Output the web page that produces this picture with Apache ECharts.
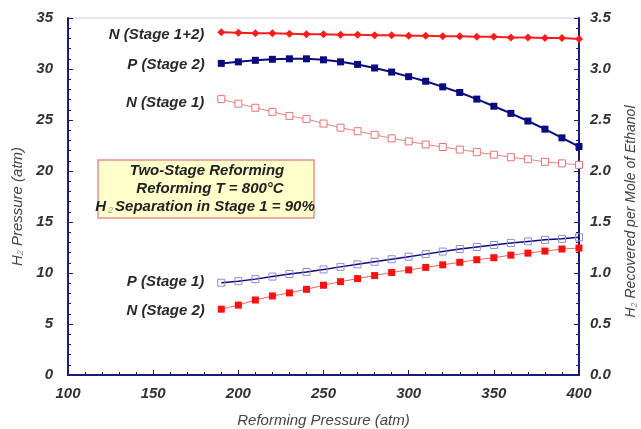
<!DOCTYPE html>
<html>
<head>
<meta charset="utf-8">
<script src="https://cdn.jsdelivr.net/npm/echarts@6/dist/echarts.min.js"></script>
<style>html,body{margin:0;padding:0;background:#fff;}#c{width:641px;height:429px;}</style>
</head>
<body>
<div id="c"></div>
<script>
const pressures = [190,200,210,220,230,240,250,260,270,280,290,300,310,320,330,340,350,360,370,380,390,400];
const nStage12 = [33.6,33.55,33.5,33.5,33.45,33.4,33.4,33.35,33.35,33.3,33.3,33.25,33.25,33.2,33.2,33.15,33.15,33.1,33.1,33.05,33.05,32.95];
const pStage2  = [30.55,30.7,30.85,30.95,31.0,31.0,30.9,30.7,30.45,30.1,29.7,29.25,28.8,28.25,27.7,27.05,26.35,25.65,24.9,24.1,23.25,22.4];
const nStage1  = [27.05,26.6,26.2,25.8,25.4,25.1,24.65,24.25,23.9,23.55,23.2,22.9,22.6,22.35,22.1,21.85,21.6,21.35,21.15,20.9,20.75,20.6];
const pStage1  = [9.05,9.2,9.4,9.65,9.9,10.1,10.35,10.6,10.85,11.1,11.35,11.6,11.85,12.1,12.35,12.55,12.75,12.95,13.1,13.25,13.35,13.5];
const nStage2  = [6.45,6.85,7.35,7.75,8.05,8.4,8.8,9.15,9.45,9.75,10.05,10.3,10.55,10.8,11.05,11.3,11.5,11.75,11.95,12.15,12.35,12.45];
const xTicks = {min:100, max:400, interval:50};
const yLeftTicks = {min:0, max:35, interval:5};
const yRightTicks = {min:0, max:3.5, interval:0.5};

const FONT = '"Liberation Sans", Arial, sans-serif';
const NAVY = '#1a1a7a';

function pairs(ys){ return pressures.map((x,i)=>[x,ys[i]]); }
function labeled(ys, text, dy){
  return pairs(ys).map((p,i)=> i===0 ? {value:p, label:{show:true, position:'left', distance:13, offset:[0,dy], formatter:text,
    fontFamily:FONT, fontStyle:'italic', fontWeight:'bold', fontSize:15, color:'#2a2a2a'}} : {value:p});
}

const chart = echarts.init(document.getElementById('c'));
const axisLabelStyle = {fontFamily:FONT, fontStyle:'italic', fontWeight:'bold', fontSize:15, color:'#333'};
function nameStyle(size, pad){
  return {fontFamily:FONT, fontStyle:'italic', fontSize:size, color:'#444', padding:pad,
    rich:{i:{fontFamily:FONT, fontStyle:'italic', fontSize:size, color:'#444'}, s:{fontFamily:FONT, fontStyle:'italic', fontSize:9, color:'#888', verticalAlign:'bottom', padding:[7,0,0,0]}}};
}

chart.setOption({
  animation:false,
  grid:{left:68, right:62, top:18, bottom:54, containLabel:false, outerBoundsMode:'none', show:true, borderColor:'#c8c8e6', borderWidth:1},
  xAxis:{type:'value', min:xTicks.min, max:xTicks.max, interval:xTicks.interval,
    name:'Reforming Pressure (atm)', nameLocation:'middle', nameGap:38,
    nameTextStyle:{fontFamily:FONT, fontStyle:'italic', fontSize:15, color:'#444'},
    axisLine:{lineStyle:{color:NAVY, width:2}},
    axisTick:{inside:true, length:5, lineStyle:{color:NAVY}},
    minorTick:{show:true, splitNumber:5, length:3, lineStyle:{color:NAVY}},
    splitLine:{show:false},
    axisLabel:Object.assign({margin:11}, axisLabelStyle)},
  yAxis:[
    {type:'value', min:yLeftTicks.min, max:yLeftTicks.max, interval:yLeftTicks.interval,
      name:'{i|H}{s|2}{i| Pressure (atm)}', nameLocation:'middle', nameGap:36, nameTextStyle:nameStyle(15,[0,20,0,0]),
      axisLine:{show:true, lineStyle:{color:NAVY, width:2}},
      axisTick:{inside:true, length:5, lineStyle:{color:NAVY}},
      minorTick:{show:true, splitNumber:5, length:3, lineStyle:{color:NAVY}},
      splitLine:{show:false},
      axisLabel:Object.assign({margin:15}, axisLabelStyle)},
    {type:'value', position:'right', min:yRightTicks.min, max:yRightTicks.max, interval:yRightTicks.interval,
      name:'{i|H}{s|2}{i| Recovered per Mole of Ethanol}', nameLocation:'middle', nameGap:44, nameRotate:90, nameTextStyle:nameStyle(14,[0,30,0,0]),
      axisLine:{show:true, lineStyle:{color:NAVY, width:2}},
      axisTick:{inside:true, length:5, lineStyle:{color:NAVY}},
      minorTick:{show:true, splitNumber:5, length:3, lineStyle:{color:NAVY}},
      splitLine:{show:false},
      axisLabel:Object.assign({margin:11, formatter:v=>v.toFixed(1)}, axisLabelStyle)}
  ],
  series:[
    {name:'N (Stage 1+2)', type:'line', data:labeled(nStage12,'N (Stage 1+2)',3), symbol:'diamond', symbolSize:8,
      lineStyle:{color:'#ff1a1a', width:2}, itemStyle:{color:'#ff1a1a'}},
    {name:'P (Stage 2)', type:'line', data:labeled(pStage2,'P (Stage 2)',1), symbol:'rect', symbolSize:7,
      lineStyle:{color:'#0a0a80', width:2}, itemStyle:{color:'#0a0a80'}},
    {name:'N (Stage 1)', type:'line', data:labeled(nStage1,'N (Stage 1)',4), symbol:'rect', symbolSize:7,
      lineStyle:{color:'#f08080', width:1}, itemStyle:{color:'#fff', borderColor:'#f07070', borderWidth:1}},
    {name:'P (Stage 1)', type:'line', data:labeled(pStage1,'P (Stage 1)',-1), symbol:'rect', symbolSize:7,
      lineStyle:{color:'#0a0a80', width:1.5}, itemStyle:{color:'rgba(255,255,255,0)', borderColor:'#8c8cd0', borderWidth:1}, z:3},
    {name:'N (Stage 2)', type:'line', data:labeled(nStage2,'N (Stage 2)',2), symbol:'rect', symbolSize:7,
      lineStyle:{color:'#f06060', width:1}, itemStyle:{color:'#ff1010'}}
  ],
  graphic:[
    {type:'rect', z:10, shape:{x:98, y:160, width:216, height:58}, style:{fill:'#ffffcc', stroke:'#e89090', lineWidth:1.5}},
    {type:'text', z:11, x:207, y:171, style:{text:'Two-Stage Reforming', font:'italic bold 15px '+FONT, fill:'#222', align:'center', verticalAlign:'middle'}},
    {type:'text', z:11, x:210, y:189, style:{text:'Reforming T = 800\u00B0C', font:'italic bold 15px '+FONT, fill:'#222', align:'center', verticalAlign:'middle'}},
    {type:'text', z:11, x:205, y:207, style:{rich:{a:{font:'italic bold 15px '+FONT, fill:'#222'}, s:{font:'italic 9px '+FONT, fill:'#999', padding:[7,2,0,2]}},
      text:'{a|H}{s|2}{a|Separation in Stage 1 = 90%}', align:'center', verticalAlign:'middle'}}
  ]
});
</script>
</body>
</html>
